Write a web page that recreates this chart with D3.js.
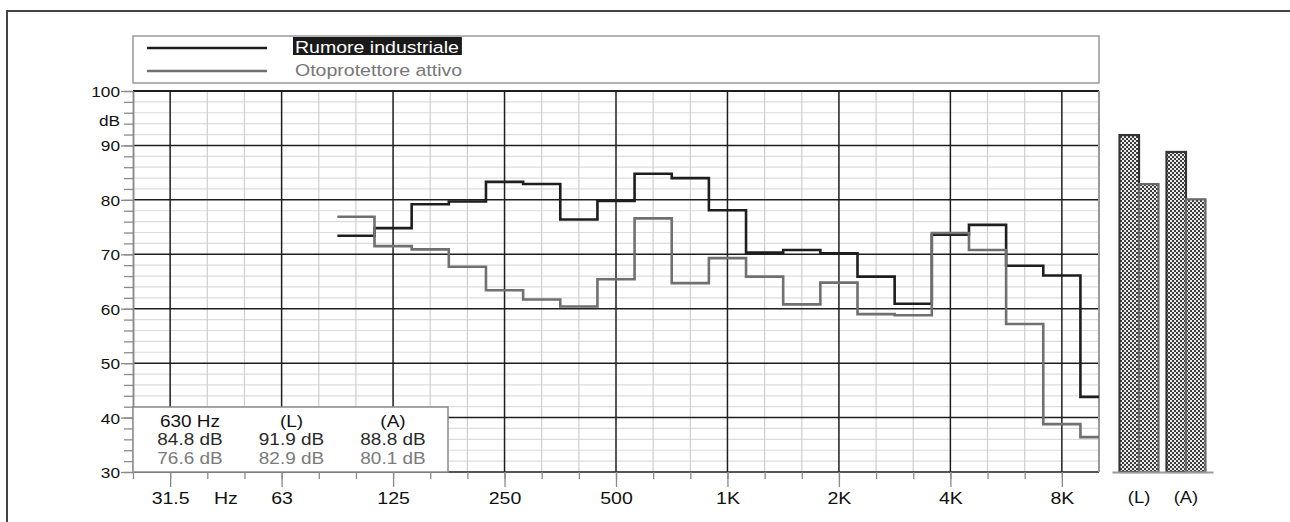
<!DOCTYPE html>
<html>
<head>
<meta charset="utf-8">
<script src="https://cdn.jsdelivr.net/npm/d3@7"></script>
<style>
  body { margin: 0; background: #fff; }
  svg { display: block; font-family: "Liberation Sans", Arial, sans-serif; }
</style>
</head>
<body>
<svg id="chart"></svg>
<script>
// third-octave band centres (nominal Hz) and levels in dB
const bands = [100, 125, 160, 200, 250, 315, 400, 500, 630, 800, 1000,
  1250, 1600, 2000, 2500, 3150, 4000, 5000, 6300, 8000, 10000];
const noise = [73.4, 74.8, 79.2, 79.7, 83.3, 82.9, 76.4, 79.8, 84.8, 84.0, 78.1,
  70.3, 70.8, 70.2, 65.9, 60.9, 73.6, 75.4, 67.9, 66.1, 43.8];
const protector = [76.9, 71.5, 70.9, 67.7, 63.4, 61.7, 60.4, 65.4, 76.6, 64.7, 69.3,
  65.9, 60.8, 64.8, 59.0, 58.8, 73.9, 70.8, 57.2, 38.8, 36.4];

const seriesNames = ["Rumore industriale", "Otoprotettore attivo"];
const seriesColors = ["#1e1e1e", "#707070"];

// overall levels, linear (L) and A-weighted (A)
const totalLabels = ["(L)", "(A)"];
const noiseTotals = [91.9, 88.8];
const protectorTotals = [82.9, 80.1];

const octaveFreqs = [31.5, 63, 125, 250, 500, 1000, 2000, 4000, 8000];
const octaveLabels = ["31.5", "63", "125", "250", "500", "1K", "2K", "4K", "8K"];
const cursorBand = 630;

const W = 1290, H = 522;
const plot = { left: 133, right: 1099, top: 91, bottom: 472 };
const SX = 1.15; // horizontal stretch of the lettering

// exact base-2 third-octave frequency for a nominal label
const exact = (f) => 1000 * Math.pow(2, Math.round(3 * Math.log2(f / 1000)) / 3);
const edge = (f, s) => exact(f) * Math.pow(2, s / 6);

const svg = d3.select("#chart").attr("width", W).attr("height", H);

const x = d3.scaleLog()
  .domain([exact(25), exact(10000)])
  .range([plot.left, plot.right]);
const y = d3.scaleLinear().domain([30, 100]).range([plot.bottom, plot.top]);

const allThirds = d3.range(-16, 11).map((n) => 1000 * Math.pow(2, n / 3));
const minorThirds = d3.range(-16, 11).filter((n) => n % 3 !== 0).map((n) => 1000 * Math.pow(2, n / 3));

function stretch(sel) {
  sel.each(function () {
    const t = d3.select(this);
    const tx = +t.attr("x") || 0;
    t.attr("x", tx / SX).attr("transform", `scale(${SX},1)`);
  });
}

function label(g, px, py, text, size, anchor, fill) {
  return g.append("text")
    .attr("transform", `translate(${px},${py}) scale(${SX},1)`)
    .attr("font-size", size)
    .attr("text-anchor", anchor)
    .attr("fill", fill)
    .text(text);
}

// outer frame
svg.append("path")
  .attr("d", `M7,${H + 5} V11 H${W + 5}`)
  .attr("fill", "none")
  .attr("stroke", "#444")
  .attr("stroke-width", 2);

// legend
const legend = svg.append("g");
legend.append("rect")
  .attr("x", plot.left).attr("y", 36)
  .attr("width", plot.right - plot.left).attr("height", 47)
  .attr("fill", "#fff").attr("stroke", "#999").attr("stroke-width", 1.5);
seriesNames.forEach((name, i) => {
  const ly = 48 + i * 23;
  legend.append("line")
    .attr("x1", 147).attr("x2", 267).attr("y1", ly).attr("y2", ly)
    .attr("stroke", seriesColors[i]).attr("stroke-width", 2.5);
  const t = label(legend, 295, ly + 4.5, name, 17, "start", i === 0 ? "#fff" : "#777");
  if (i === 0) {
    const bb = t.node().getBBox();
    legend.insert("rect", () => t.node())
      .attr("x", 293).attr("y", 37)
      .attr("width", bb.width * SX + 5).attr("height", 18)
      .attr("fill", "#1a1a1a");
  }
});

// grid
const grid = svg.append("g");
grid.selectAll(".hminor")
  .data(d3.range(32, 100, 2).filter((v) => v % 10 !== 0))
  .join("line")
  .attr("x1", plot.left).attr("x2", plot.right)
  .attr("y1", (d) => y(d)).attr("y2", (d) => y(d))
  .attr("stroke", "#dcdcdc").attr("stroke-width", 1.2);
grid.selectAll(".vminor")
  .data(minorThirds.filter((f) => x(f) > plot.left + 1 && x(f) < plot.right - 1))
  .join("line")
  .attr("x1", (d) => x(d)).attr("x2", (d) => x(d))
  .attr("y1", plot.top).attr("y2", plot.bottom)
  .attr("stroke", "#cfcfcf").attr("stroke-width", 1.2);
grid.selectAll(".hmajor")
  .data(d3.range(30, 101, 10))
  .join("line")
  .attr("x1", plot.left).attr("x2", plot.right)
  .attr("y1", (d) => y(d)).attr("y2", (d) => y(d))
  .attr("stroke", "#1e1e1e").attr("stroke-width", (d) => (d === 100 ? 2 : 1.5));
grid.selectAll(".vmajor")
  .data(octaveFreqs)
  .join("line")
  .attr("x1", (d) => x(exact(d))).attr("x2", (d) => x(exact(d)))
  .attr("y1", plot.top).attr("y2", plot.bottom)
  .attr("stroke", "#1e1e1e").attr("stroke-width", 1.5);
grid.append("line")
  .attr("x1", plot.right).attr("x2", plot.right)
  .attr("y1", plot.top).attr("y2", plot.bottom)
  .attr("stroke", "#9a9a9a").attr("stroke-width", 2);

// y axis
const yMinor = svg.append("g")
  .attr("transform", `translate(${plot.left},0)`)
  .call(d3.axisLeft(y).tickValues(d3.range(30, 101, 2)).tickSize(9).tickSizeOuter(0).tickFormat(""));
const yMajor = svg.append("g")
  .attr("transform", `translate(${plot.left},0)`)
  .call(d3.axisLeft(y).tickValues(d3.range(30, 101, 10)).tickSize(12).tickSizeOuter(0));
[yMinor, yMajor].forEach((g) => {
  g.select(".domain").attr("stroke", "#8a8a8a").attr("stroke-width", 1.5);
  g.selectAll(".tick line").attr("stroke", "#8a8a8a").attr("stroke-width", 1.3);
});
yMajor.selectAll(".tick text")
  .attr("font-size", 15).attr("fill", "#111").attr("font-family", null)
  .attr("x", -13).attr("dy", "0.37em")
  .call(stretch);
label(svg, plot.left - 13, y(94.55) + 5.4, "dB", 15, "end", "#111");

// x axis
const xMinor = svg.append("g")
  .attr("transform", `translate(0,${plot.bottom})`)
  .call(d3.axisBottom(x).tickValues(allThirds.slice(0, -1)).tickSize(7).tickSizeOuter(0).tickFormat(""));
const xMajor = svg.append("g")
  .attr("transform", `translate(0,${plot.bottom})`)
  .call(d3.axisBottom(x).tickValues(octaveFreqs.map(exact)).tickSize(15).tickPadding(5)
    .tickSizeOuter(0).tickFormat((d, i) => octaveLabels[i]));
[xMinor, xMajor].forEach((g) => {
  g.select(".domain").remove();
  g.selectAll(".tick line").attr("stroke", "#8a8a8a").attr("stroke-width", 1.3);
});
xMajor.selectAll(".tick text")
  .attr("font-size", 17).attr("fill", "#111").attr("font-family", null)
  .call(stretch);
label(svg, (x(exact(40)) + x(exact(50))) / 2, 504, "Hz", 17, "middle", "#111");

// info box for the cursor band
const ci = bands.indexOf(cursorBand);
const info = svg.append("g");
info.append("rect")
  .attr("x", plot.left).attr("y", 407)
  .attr("width", 315).attr("height", plot.bottom - 407)
  .attr("fill", "#fff").attr("stroke", "#8a8a8a").attr("stroke-width", 1.5);
const col = d3.scalePoint().domain([0, 1, 2]).range([190, 393]);
const header = [`${cursorBand} Hz`, ...totalLabels];
const rows = [
  [noise[ci], ...noiseTotals],
  [protector[ci], ...protectorTotals],
];
header.forEach((h, j) => label(info, col(j), 426.5, h, 16.5, "middle", "#111"));
rows.forEach((r, i) => r.forEach((v, j) =>
  label(info, col(j), 445 + i * 18.5, `${v.toFixed(1)} dB`, 16.5, "middle", i === 0 ? "#2a2a2a" : "#7a7a7a")));

// spectra as steps over each third-octave band
const clip = svg.append("defs").append("clipPath").attr("id", "plotclip");
clip.append("rect")
  .attr("x", plot.left).attr("y", plot.top)
  .attr("width", plot.right - plot.left).attr("height", plot.bottom - plot.top);

const step = d3.line()
  .x((d) => x(d[0]))
  .y((d) => y(d[1]))
  .curve(d3.curveStepAfter);

function stepPoints(values) {
  const pts = bands.map((f, i) => [edge(f, -1), values[i]]);
  pts.push([edge(bands[bands.length - 1], 1), values[values.length - 1]]);
  return pts;
}

const curves = svg.append("g").attr("clip-path", "url(#plotclip)");
[noise, protector].forEach((vals, i) => {
  curves.append("path")
    .attr("d", step(stepPoints(vals)))
    .attr("fill", "none")
    .attr("stroke", seriesColors[i])
    .attr("stroke-width", 2.6)
    .attr("stroke-linejoin", "miter");
});

// overall level bars
const pat = svg.select("defs").append("pattern")
  .attr("id", "checker")
  .attr("patternUnits", "userSpaceOnUse")
  .attr("width", 4).attr("height", 4);
pat.append("rect").attr("width", 4).attr("height", 4).attr("fill", "#ececec");
pat.append("rect").attr("width", 2).attr("height", 2).attr("fill", "#3c3c3c");
pat.append("rect").attr("x", 2).attr("y", 2).attr("width", 2).attr("height", 2).attr("fill", "#3c3c3c");

const xb = d3.scaleBand().domain(totalLabels).range([1112, 1213])
  .paddingInner(0.17).paddingOuter(0.16);
const xs = d3.scaleBand().domain([0, 1]).range([0, xb.bandwidth()]);
const barColors = ["#333", "#6a6a6a"];

const bars = svg.append("g");
totalLabels.forEach((lab, k) => {
  [noiseTotals[k], protectorTotals[k]].forEach((v, s) => {
    bars.append("rect")
      .attr("x", xb(lab) + xs(s))
      .attr("y", y(v))
      .attr("width", xs.bandwidth())
      .attr("height", y(30) - y(v))
      .attr("fill", "url(#checker)")
      .attr("stroke", barColors[s])
      .attr("stroke-width", 2.2);
  });
});
const xbAxis = svg.append("g")
  .attr("transform", `translate(0,${plot.bottom})`)
  .call(d3.axisBottom(xb).tickSize(0).tickSizeOuter(0).tickPadding(20));
xbAxis.select(".domain").attr("stroke", "#9a9a9a").attr("stroke-width", 2);
xbAxis.selectAll(".tick text")
  .attr("font-size", 16).attr("fill", "#111").attr("font-family", null)
  .call(stretch);
</script>
</body>
</html>
